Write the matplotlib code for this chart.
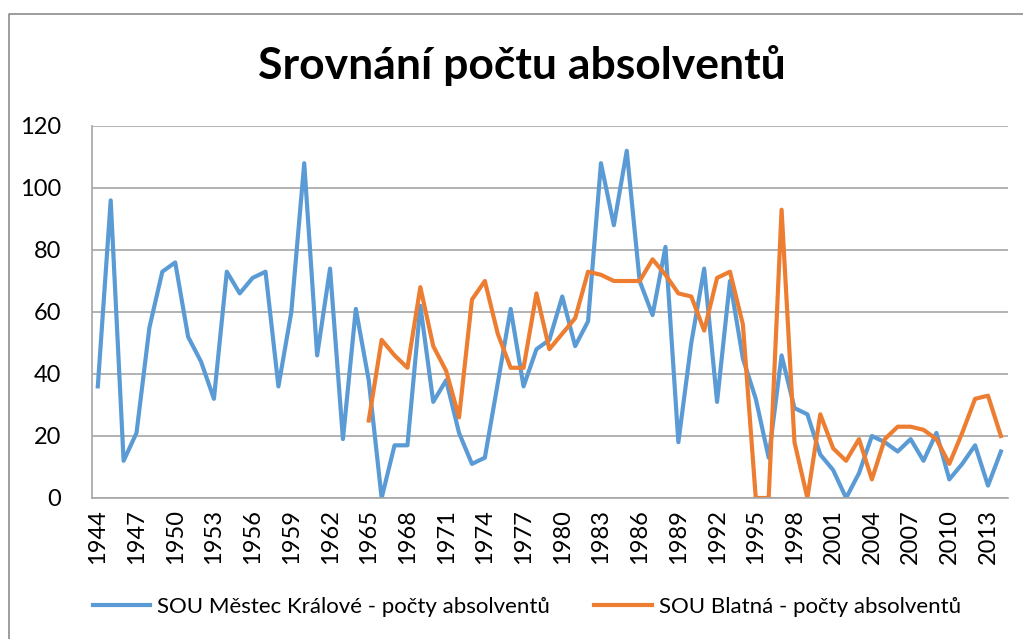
import matplotlib
matplotlib.use("Agg")
import matplotlib.pyplot as plt
from matplotlib.lines import Line2D

plt.rcParams["font.family"] = ["Lato", "DejaVu Sans"]

years = list(range(1944, 2015))
mestec = [36, 96, 12, 21, 55, 73, 76, 52, 44, 32, 73, 66, 71, 73, 36, 60, 108, 46, 74,
          19, 61, 38, 0, 17, 17, 62, 31, 38, 21, 11, 13, 37, 61, 36, 48, 51,
          65, 49, 57, 108, 88, 112, 70, 59, 81, 18, 50, 74, 31, 70, 45, 32, 13, 46,
          29, 27, 14, 9, 0, 8, 20, 18, 15, 19, 12, 21, 6, 11, 17, 4, 15]
blatna_years = list(range(1965, 2015))
blatna = [25, 51, 46, 42, 68, 49, 41, 26, 64, 70, 53, 42, 42, 66, 48,
          53, 58, 73, 72, 70, 70, 70, 77, 72, 66, 65, 54, 71, 73, 56, 0, 0, 93,
          18, 0, 27, 16, 12, 19, 6, 19, 23, 23, 22, 19, 11, 21, 32, 33, 20]
tick_years = list(range(1944, 2014, 3))

BLUE, ORANGE = "#5B9BD5", "#ED7D31"
GRID = "#A6A6A6"

fig = plt.figure(figsize=(10.23, 6.39), dpi=100)
fig.patch.set_facecolor("white")
ax = fig.add_axes([92 / 1023, 1 - 498 / 639, (1008 - 92) / 1023, (498 - 126) / 639])

ax.plot(years, mestec, color=BLUE, linewidth=3.0, solid_joinstyle="round",
        label="SOU Městec Králové - počty absolventů")
ax.plot(blatna_years, blatna, color=ORANGE, linewidth=3.0, solid_joinstyle="round",
        label="SOU Blatná - počty absolventů")

ax.set_ylim(0, 120)
ax.set_yticks(range(0, 121, 20))
ax.set_xlim(1943.55, 2014.55)
ax.set_xticks(tick_years)
ax.set_xticklabels([str(y) for y in tick_years], rotation=90)
ax.grid(axis="y", color=GRID, linewidth=1.2)
ax.set_axisbelow(True)
for s in ("top", "right"):
    ax.spines[s].set_visible(False)
for s in ("left", "bottom"):
    ax.spines[s].set_color(GRID)
    ax.spines[s].set_linewidth(1.2)
ax.tick_params(axis="y", length=0, labelsize=17, pad=22)
ax.tick_params(axis="x", length=0, labelsize=17, pad=8)

fig.text(0.51, 1 - 66 / 639, "Srovnání počtu absolventů", ha="center", va="center",
         fontsize=32, fontweight="bold")
fig.legend(loc="center", bbox_to_anchor=(0.515, 1 - 607 / 639), ncol=2, frameon=False,
           fontsize=16, handlelength=2.6, handletextpad=0.3, columnspacing=2.0)

# chart-area border: only top and left edges show
fig.lines.append(Line2D([9 / 1023, 9 / 1023, 1.0], [0.0, 1 - 14 / 639, 1 - 14 / 639],
                        transform=fig.transFigure, color="#8C8C8C", linewidth=1.2))

fig.savefig("out.png", dpi=100, facecolor="white")
